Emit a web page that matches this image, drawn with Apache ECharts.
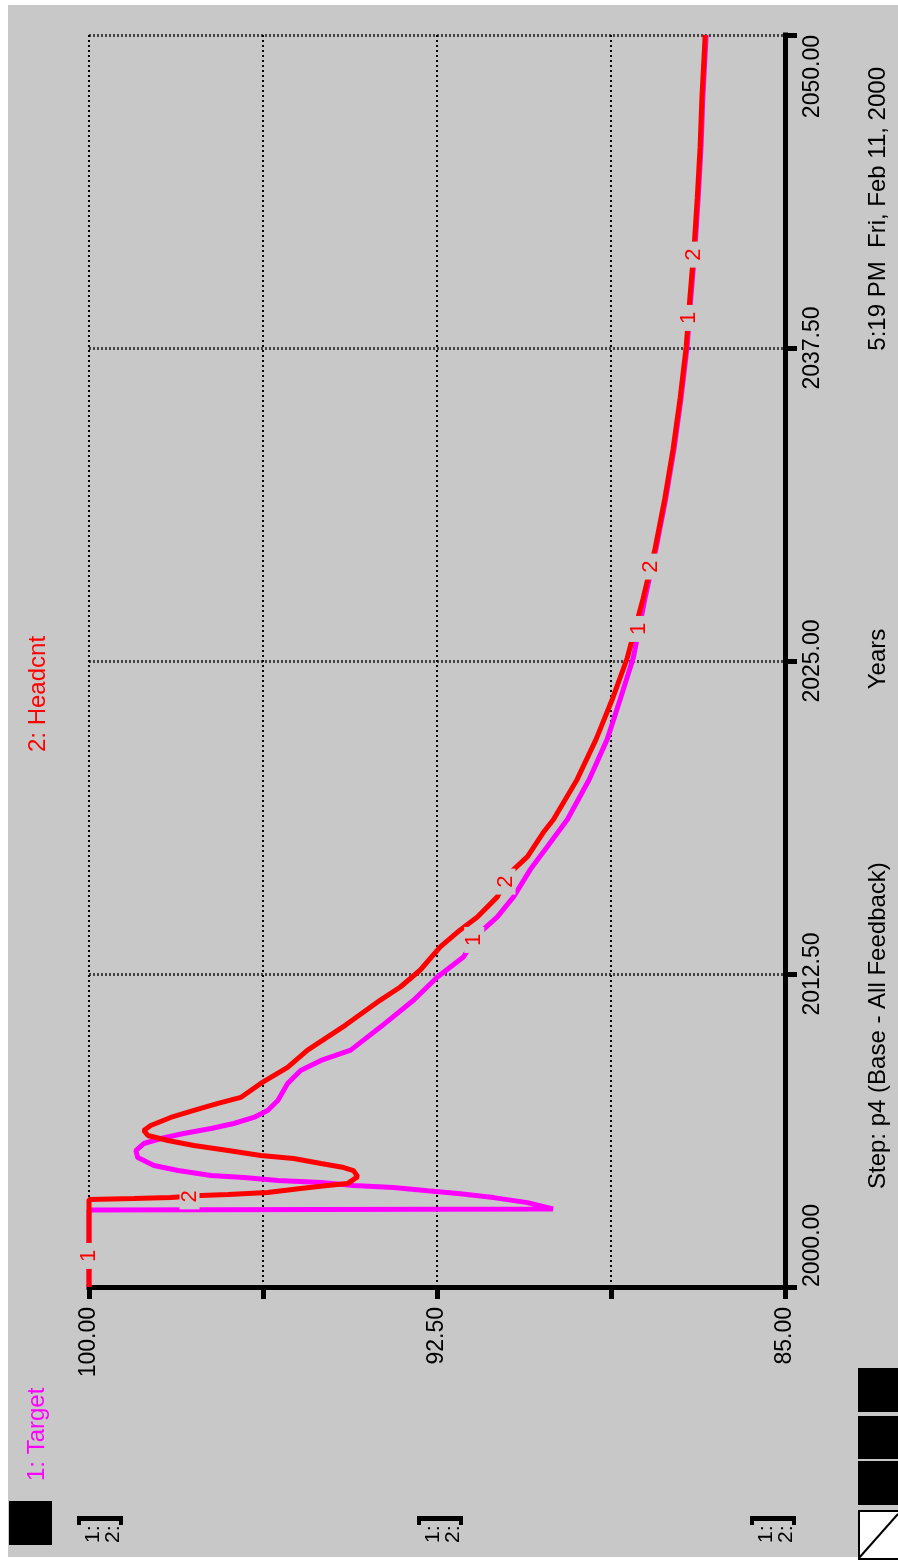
<!DOCTYPE html>
<html>
<head>
<meta charset="utf-8">
<script src="https://cdn.jsdelivr.net/npm/echarts@6/dist/echarts.min.js"></script>
<style>
html,body{margin:0;padding:0;background:#ffffff;overflow:hidden;}
#bg{position:absolute;left:8px;top:5px;width:890px;height:1552px;background:#c8c8c8;}
#chart{position:absolute;left:0;top:0;width:898px;height:1564px;}
</style>
</head>
<body>
<div id="bg"></div>
<div id="chart"></div>
<script>
// ---- data ----
const seriesNames = ['1: Target', '2: Headcnt'];

const targetYears = [2000, 2003.08, 2003.12, 2003.37, 2003.57, 2003.72, 2003.84, 2003.97, 2004.05, 2004.17,
  2004.25, 2004.37, 2004.45, 2004.65, 2004.85, 2005.17, 2005.45, 2005.73, 2005.93, 2006.13,
  2006.33, 2006.53, 2006.77, 2007.05, 2007.45, 2008.13, 2008.65, 2009.05, 2009.46, 2010.38,
  2011.46, 2012.38, 2013.18, 2014.06, 2014.78, 2015.58, 2016.67, 2017.59, 2018.67, 2020.27,
  2021.88, 2023.48, 2025.12, 2027.48, 2029.49, 2031.49, 2033.49, 2035.5, 2037.54, 2039.5,
  2041.51, 2043.51, 2045.51, 2047.52, 2050];
const targetValues = [100, 100, 90.0, 90.55, 91.28, 92.0, 92.7, 93.44, 94.3, 95.0,
  95.93, 96.66, 97.37, 98.08, 98.6, 98.95, 98.99, 98.82, 98.45, 97.96,
  97.37, 96.88, 96.45, 96.15, 95.93, 95.72, 95.44, 95.0, 94.36, 93.72,
  93.0, 92.49, 91.93, 91.63, 91.2, 90.85, 90.49, 90.12, 89.69, 89.22,
  88.83, 88.55, 88.27, 88.02, 87.78, 87.57, 87.39, 87.24, 87.11, 87.03,
  86.94, 86.87, 86.81, 86.77, 86.70];

const headcntYears = [2000, 2003.49, 2003.53, 2003.57, 2003.65, 2003.69, 2003.77, 2003.93, 2004.05, 2004.13,
  2004.41, 2004.65, 2004.77, 2004.93, 2005.13, 2005.25, 2005.45, 2005.65, 2005.85, 2006.05,
  2006.25, 2006.45, 2006.77, 2007.05, 2007.33, 2007.57, 2008.13, 2008.77, 2009.46, 2010.46,
  2011.46, 2011.98, 2012.66, 2013.58, 2014.26, 2014.78, 2015.58, 2016.55, 2017.19, 2018.15,
  2018.67, 2020.27, 2021.88, 2023.48, 2025.12, 2027.48, 2029.49, 2031.49, 2033.49, 2035.5,
  2037.54, 2039.5, 2041.51, 2043.51, 2045.51, 2047.52, 2050];
const headcntValues = [100, 100, 99.03, 98.24, 97.59, 97.0, 96.15, 95.44, 94.86, 94.43,
  94.21, 94.3, 94.51, 95.0, 95.59, 96.3, 97.0, 97.74, 98.3, 98.73,
  98.82, 98.67, 98.24, 97.74, 97.22, 96.73, 96.3, 95.72, 95.29, 94.47,
  93.72, 93.29, 92.86, 92.43, 92.0, 91.63, 91.2, 90.92, 90.55, 90.21,
  89.99, 89.48, 89.07, 88.72, 88.40, 88.06, 87.80, 87.59, 87.41, 87.26,
  87.13, 87.05, 86.96, 86.89, 86.83, 86.79, 86.72];

// years where the series number markers "1" / "2" sit on the curves
const targetMarkerYears = [2001.24, 2013.86, 2026.28, 2038.7];
const headcntMarkerYears = [2003.62, 2016.19, 2028.77, 2041.23];

// axis ticks
const valueMin = 85, valueMax = 100, valueStep = 3.75;
const valueLabelTicks = [100, 92.5, 85];
const yearMin = 2000, yearMax = 2050, yearStep = 12.5;

// ---- helpers ----
const FONT = "'Liberation Sans', Arial, Helvetica, sans-serif";
const BG = '#c8c8c8';
const RED = '#ff0000', MAGENTA = '#ff00ff';

function pairs(years, values) { return years.map((t, i) => [values[i], t]); }
function valueAt(years, values, t) {
  for (let i = 1; i < years.length; i++) {
    if (t <= years[i]) {
      const f = (t - years[i - 1]) / (years[i] - years[i - 1]);
      return values[i - 1] + f * (values[i] - values[i - 1]);
    }
  }
  return values[values.length - 1];
}
function vtext(x, y, text, color, size, align) {
  return { type: 'text', x: x, y: y, rotation: Math.PI / 2, z: 10,
    style: { text: text, fill: color, fontSize: size, fontFamily: FONT, align: align, verticalAlign: 'middle' } };
}
function rect(x, y, w, h, fill, extra) {
  return Object.assign({ type: 'rect', shape: { x: x, y: y, width: w, height: h }, style: { fill: fill }, z: 10 }, extra || {});
}

const graphics = [
  vtext(37, 1481, seriesNames[0], MAGENTA, 24, 'left'),
  vtext(38, 752, seriesNames[1], RED, 24, 'left'),
  vtext(878, 1189, 'Step: p4 (Base - All Feedback)', '#000', 24, 'left'),
  vtext(878, 659, 'Years', '#000', 24, 'center'),
  vtext(878, 67, '5:19 PM  Fri, Feb 11, 2000', '#000', 24, 'right'),
  rect(9, 1501, 43, 44, '#000'),
  rect(858, 1368, 40, 44, '#000'),
  rect(858, 1416, 40, 43, '#000'),
  rect(858, 1461, 40, 44, '#000'),
  { type: 'rect', z: 10, shape: { x: 859, y: 1511, width: 41, height: 48 }, style: { fill: '#ffffff', stroke: '#000', lineWidth: 2 } },
  { type: 'line', z: 11, shape: { x1: 859, y1: 1558, x2: 898, y2: 1514 }, style: { stroke: '#000', lineWidth: 2 } }
];
[77, 417, 750].forEach(gx => {
  graphics.push(rect(gx, 1516, 46, 5, '#000'));
  graphics.push(rect(gx, 1516, 4, 9, '#000'));
  graphics.push(rect(gx + 42, 1516, 4, 9, '#000'));
  graphics.push(vtext(gx + 16, 1543, '1:', '#000', 21, 'left'));
  graphics.push(vtext(gx + 36, 1543, '2:', '#000', 21, 'left'));
});

const chart = echarts.init(document.getElementById('chart'), null, { renderer: 'canvas' });
chart.setOption({
  animation: false,
  backgroundColor: 'transparent',
  grid: { left: 89, right: 113, top: 35, bottom: 277, containLabel: false },
  xAxis: {
    type: 'value', min: valueMin, max: valueMax, interval: valueStep, inverse: true, position: 'bottom',
    axisLine: { show: true, onZero: false, lineStyle: { color: '#000', width: 5, cap: 'square' } },
    axisTick: { show: true, length: 12, lineStyle: { color: '#000', width: 5 } },
    axisLabel: { rotate: 90, margin: 20, fontSize: 23, color: '#000', fontFamily: FONT,
      showMinLabel: true, showMaxLabel: true,
      formatter: v => valueLabelTicks.some(k => Math.abs(k - v) < 1e-6) ? v.toFixed(2) : '' },
    splitLine: { show: true, lineStyle: { color: '#000', width: 2, type: [2, 3] } }
  },
  yAxis: {
    type: 'value', min: yearMin, max: yearMax, interval: yearStep, position: 'right',
    axisLine: { show: true, onZero: false, lineStyle: { color: '#000', width: 5, cap: 'square' } },
    axisTick: { show: true, length: 12, lineStyle: { color: '#000', width: 5 } },
    axisLabel: { rotate: 90, margin: 16, fontSize: 23, color: '#000', fontFamily: FONT,
      showMinLabel: true, showMaxLabel: true, alignMinLabel: 'left', alignMaxLabel: 'right',
      formatter: v => v.toFixed(2) },
    splitLine: { show: true, lineStyle: { color: '#444', width: 3, type: [2, 2] } }
  },
  series: [
    { name: seriesNames[0], type: 'line', data: pairs(targetYears, targetValues), showSymbol: false, clip: false,
      lineStyle: { color: MAGENTA, width: 5 }, itemStyle: { color: MAGENTA }, z: 3 },
    { name: seriesNames[1], type: 'line', data: pairs(headcntYears, headcntValues), showSymbol: false, clip: false,
      lineStyle: { color: RED, width: 5 }, itemStyle: { color: RED }, z: 4 }
  ]
});

// series-number markers placed on the curves through the chart's own scales
function markers(markYears, years, values, text) {
  return markYears.map(t => {
    const p = chart.convertToPixel({ gridIndex: 0 }, [valueAt(years, values, t), t]);
    return { type: 'group', x: p[0], y: p[1], z: 20, children: [
      { type: 'rect', z: 20, shape: { x: -10, y: -13, width: 20, height: 26 }, style: { fill: BG } },
      { type: 'text', z: 21, rotation: Math.PI / 2,
        style: { text: text, fill: RED, fontSize: 22, fontFamily: FONT, align: 'center', verticalAlign: 'middle' } }
    ] };
  });
}
chart.setOption({
  graphic: { elements: graphics
    .concat(markers(targetMarkerYears, targetYears, targetValues, '1'))
    .concat(markers(headcntMarkerYears, headcntYears, headcntValues, '2')) }
});
</script>
</body>
</html>
